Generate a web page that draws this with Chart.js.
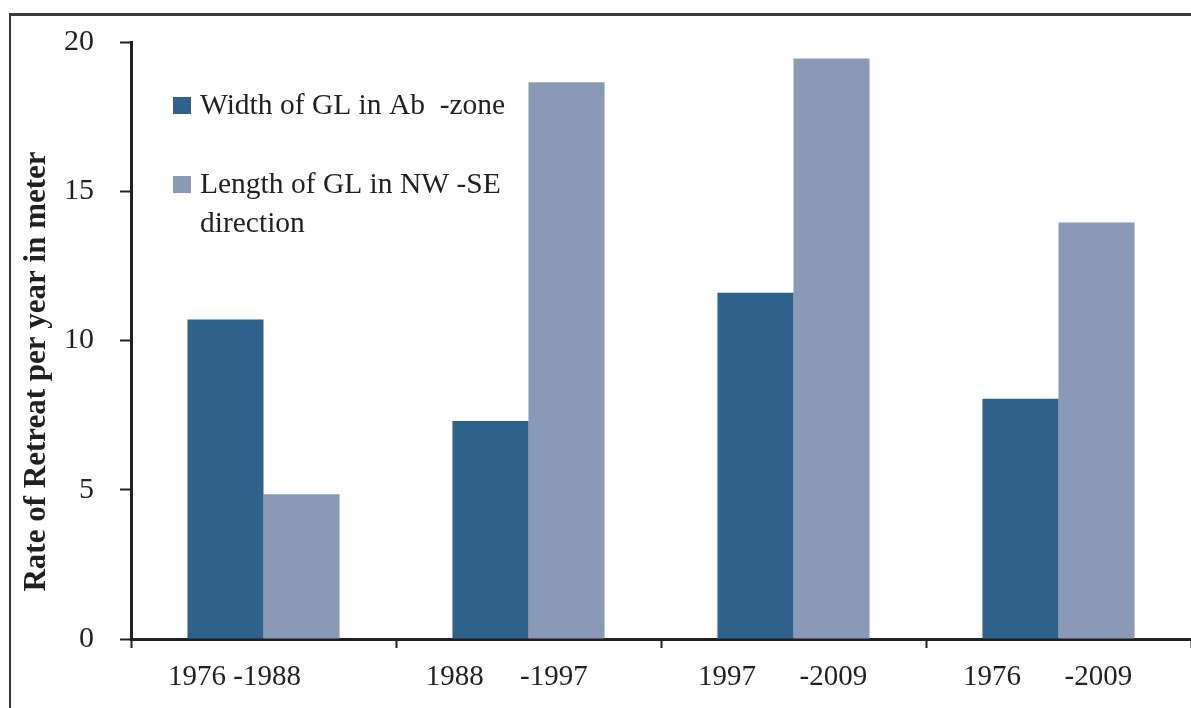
<!DOCTYPE html>
<html>
<head>
<meta charset="utf-8">
<script src="https://cdn.jsdelivr.net/npm/chart.js@4.4.1/dist/chart.umd.min.js"></script>
<style>
  html, body { margin: 0; padding: 0; background: #fff; }
  #wrap { position: relative; width: 1191px; height: 708px; overflow: hidden; }
  #frame { position: absolute; left: 9px; top: 13px; width: 1300px; height: 800px;
           border-left: 2px solid #3a3a3a; border-top: 3px solid #3a3a3a; box-sizing: border-box; }
  canvas { position: absolute; left: 0; top: 0; }
</style>
</head>
<body>
<div id="wrap">
  <div id="frame"></div>
  <canvas id="c" width="1191" height="708"></canvas>
</div>
<script>
const categories = ["1976 -1988        ", "1988     -1997      ", "1997      -2009   ", "1976      -2009   "];
const widthValues = [10.7, 7.3, 11.6, 8.05];
const lengthValues = [4.85, 18.65, 19.45, 13.95];
const seriesLabels = ["Width of GL in Ab  -zone", "Length of GL in NW -SE direction"];
const legendLines = [["Width of GL in Ab  -zone"], ["Length of GL in NW -SE", "direction"]];
const yTicks = [0, 5, 10, 15, 20];
const yTitle = "Rate of Retreat per year in meter        ";

const TEXT = '#231F20';
const FONT = 'Liberation Serif, Times New Roman, serif';

const legendPlugin = {
  id: 'customLegend',
  afterDraw(chart) {
    const ctx = chart.ctx;
    const a = chart.chartArea;
    ctx.save();
    ctx.font = '29.5px ' + FONT;
    ctx.fillStyle = TEXT;
    ctx.textBaseline = 'alphabetic';
    const baselines = [a.top + 72, a.top + 151];
    chart.data.datasets.forEach((ds, i) => {
      const b = baselines[i];
      ctx.fillStyle = ds.backgroundColor;
      ctx.fillRect(a.left + 42, b - 17, 18, 17);
      ctx.fillStyle = TEXT;
      legendLines[i].forEach((line, j) => {
        ctx.fillText(line, a.left + 69, b + j * 39);
      });
    });
    ctx.restore();
  }
};

new Chart(document.getElementById('c'), {
  type: 'bar',
  data: {
    labels: categories,
    datasets: [
      { label: seriesLabels[0], data: widthValues, backgroundColor: '#2E628A' },
      { label: seriesLabels[1], data: lengthValues, backgroundColor: '#8A99B6' }
    ]
  },
  options: {
    responsive: false,
    animation: false,
    devicePixelRatio: 1,
    layout: { padding: { left: 0, top: 42, right: 0, bottom: 0 } },
    plugins: { legend: { display: false }, tooltip: { enabled: false } },
    datasets: { bar: { categoryPercentage: 0.574, barPercentage: 1.0 } },
    scales: {
      x: {
        offset: true,
        grid: { display: true, offset: true, drawOnChartArea: false, drawTicks: true,
                tickLength: 9, tickWidth: 2, tickColor: TEXT },
        border: { display: true, color: TEXT, width: 3 },
        ticks: { color: TEXT, font: { family: FONT, size: 29 }, padding: 12, maxRotation: 0, autoSkip: false },
        afterFit(scale) { scale.height = 69; }
      },
      y: {
        min: 0, max: 20,
        afterBuildTicks(scale) { scale.ticks = yTicks.map(v => ({ value: v })); },
        grid: { display: true, drawOnChartArea: false, drawTicks: true,
                tickLength: 11, tickWidth: 2, tickColor: TEXT },
        border: { display: true, color: TEXT, width: 3 },
        ticks: { color: TEXT, font: { family: FONT, size: 30 }, padding: 26 },
        title: { display: true, text: yTitle, color: TEXT,
                 font: { family: FONT, size: 31, weight: 'bold' }, padding: { top: 18, bottom: 0 } },
        afterFit(scale) { scale.width = 131; scale.paddingTop = 0; scale.paddingBottom = 0; }
      }
    }
  },
  plugins: [legendPlugin]
});
</script>
</body>
</html>
